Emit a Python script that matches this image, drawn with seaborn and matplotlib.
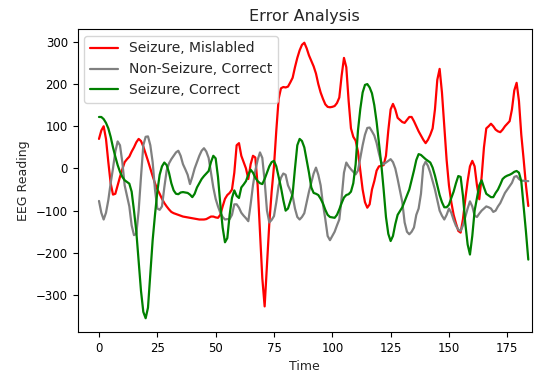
import matplotlib
matplotlib.use("Agg")
import matplotlib.pyplot as plt
import seaborn as sns
import pandas as pd

title = "Error Analysis"
x_label = "Time"
y_label = "EEG Reading"
series_names = ["Seizure, Mislabled", "Non-Seizure, Correct", "Seizure, Correct"]
series_colors = ["red", "grey", "green"]
x_ticks = [0, 25, 50, 75, 100, 125, 150, 175]
y_ticks = [-300, -200, -100, 0, 100, 200, 300]

seizure_mislabeled = [
    70, 90, 100, 70, 15, -35, -62, -60, -40, -20,
    -2, 15, 22, 28, 40, 50, 62, 70, 65, 52, 35,
    18, 0, -18, -35, -49, -60, -72, -82, -90, -97,
    -103, -106, -108, -110, -112, -114, -115, -116, -117, -118, -119,
    -120, -121, -121, -121, -120, -117, -114, -114, -116, -117,
    -110, -90, -72, -63, -58, -50, -10, 55, 60, 30, 15,
    0, -25, 10, 30, 26, -40, -150, -260, -327, -230,
    -130, -55, 5, 90, 165, 190, 193, 192, 194, 204, 215,
    240, 262, 280, 293, 298, 285, 268, 255, 242, 225,
    200, 180, 165, 152, 146, 145, 146, 148, 155, 168, 220,
    262, 240, 160, 95, 75, 66, 40, -5, -50, -80,
    -93, -85, -50, -30, -5, 5, 6, 8, 30, 90,
    140, 153, 140, 120, 115, 110, 108, 115, 122, 122, 112,
    100, 88, 78, 68, 60, 68, 80, 95, 140, 210,
    236, 180, 100, 20, -40, -80, -110, -130, -148, -152,
    -120, -73, -30, 5, 18, 5, -40, -73, -20, 50,
    95, 100, 106, 100, 92, 88, 86, 92, 100, 106, 112,
    140, 185, 203, 160, 80, 22, -40, -89,
]

non_seizure_correct = [
    -77, -105, -121, -105, -75, -35, 0, 40, 64, 55,
    15, -40, -65, -90, -135, -158, -155, -100, -20, 55, 75,
    76, 55, 15, -50, -95, -98, -90, -45, -5, 12,
    22, 30, 38, 42, 30, 10, -2, -15, -37, -20, 0,
    15, 30, 42, 48, 40, 25, -10, -45, -72, -90,
    -105, -115, -121, -120, -120, -110, -85, -85, -93, -105, -112,
    -118, -125, -85, -40, -5, 20, 38, 25, -30, -100,
    -128, -122, -113, -80, -40, -22, -12, -15, -40, -52, -65,
    -95, -115, -121, -115, -106, -80, -55, -33, -12, 2,
    -15, -40, -85, -120, -160, -170, -160, -150, -135, -121, -70,
    -10, 14, 5, -2, -8, -14, -5, 25, 55, 80,
    96, 97, 88, 78, 60, 35, 15, 10, 14, 18,
    22, 15, 0, -25, -52, -80, -128, -150, -156, -150, -140,
    -110, -95, -60, 5, 16, 6, -10, -30, -50, -75,
    -100, -112, -121, -110, -95, -105, -122, -136, -145, -148,
    -135, -115, -95, -78, -90, -112, -115, -107, -100, -95,
    -90, -92, -95, -103, -100, -90, -82, -70, -58, -50, -42,
    -34, -20, -18, -25, -29, -29, -30, -30,
]

seizure_correct = [
    122, 122, 117, 108, 95, 75, 50, 28, 8, -8,
    -20, -28, -32, -36, -55, -100, -150, -220, -290, -340, -355,
    -330, -250, -170, -110, -55, -15, 5, 14, 8, -10,
    -35, -52, -60, -61, -57, -56, -57, -58, -62, -68, -60,
    -45, -35, -25, -18, -12, -6, 15, 30, 24, -20,
    -85, -140, -175, -165, -110, -70, -52, -65, -70, -45, -38,
    -30, -15, -3, -10, -22, -30, -35, -37, -25, -10,
    5, 15, 18, 5, -20, -45, -75, -100, -95, -78, -60,
    0, 55, 70, 65, 50, 20, -10, -45, -58, -60,
    -63, -72, -83, -98, -110, -115, -116, -117, -110, -97, -82,
    -69, -63, -61, -55, -35, 10, 90, 141, 180, 198,
    200, 192, 178, 150, 110, 60, 10, -50, -115, -155,
    -172, -160, -132, -110, -101, -92, -78, -64, -50, -28, -5,
    20, 34, 32, 27, 22, 18, 14, 2, -17, -40,
    -63, -80, -92, -92, -86, -70, -55, -35, -18, -20,
    -65, -130, -180, -204, -160, -100, -70, -40, -28, -45,
    -60, -64, -68, -68, -58, -50, -38, -25, -20, -17, -15,
    -12, -8, -6, -10, -30, -90, -150, -216,
]

time = list(range(len(seizure_mislabeled)))
all_series = [seizure_mislabeled, non_seizure_correct, seizure_correct]

sns.set_style("white")
plt.rcParams["font.family"] = ["DejaVu Sans"]

fig = plt.figure(figsize=(5.41, 3.76), dpi=100)
ax = fig.add_axes([0.1433, 0.117, 0.8401, 0.806])

for name, color, values in zip(series_names, series_colors, all_series):
    df = pd.DataFrame({"Time": time, "EEG Reading": values})
    sns.lineplot(data=df, x="Time", y="EEG Reading", color=color, label=name,
                 linewidth=1.6, ax=ax)

ax.set_xlim(-9.2, 185.6)
for s in ax.spines.values():
    s.set_color("black")
    s.set_linewidth(0.8)
ax.tick_params(axis="both", which="both", direction="out", length=3.5, width=0.8,
               colors="black", labelsize=8.5, left=True, bottom=True)
ax.set_title(title, fontsize=11.5)
ax.set_xlabel(x_label, fontsize=9)
ax.set_ylabel(y_label, fontsize=9)
ax.set_xticks(x_ticks)
ax.set_yticks(y_ticks)
ax.legend(loc="upper left", fontsize=10, frameon=True)

fig.savefig("out.png", dpi=100)
